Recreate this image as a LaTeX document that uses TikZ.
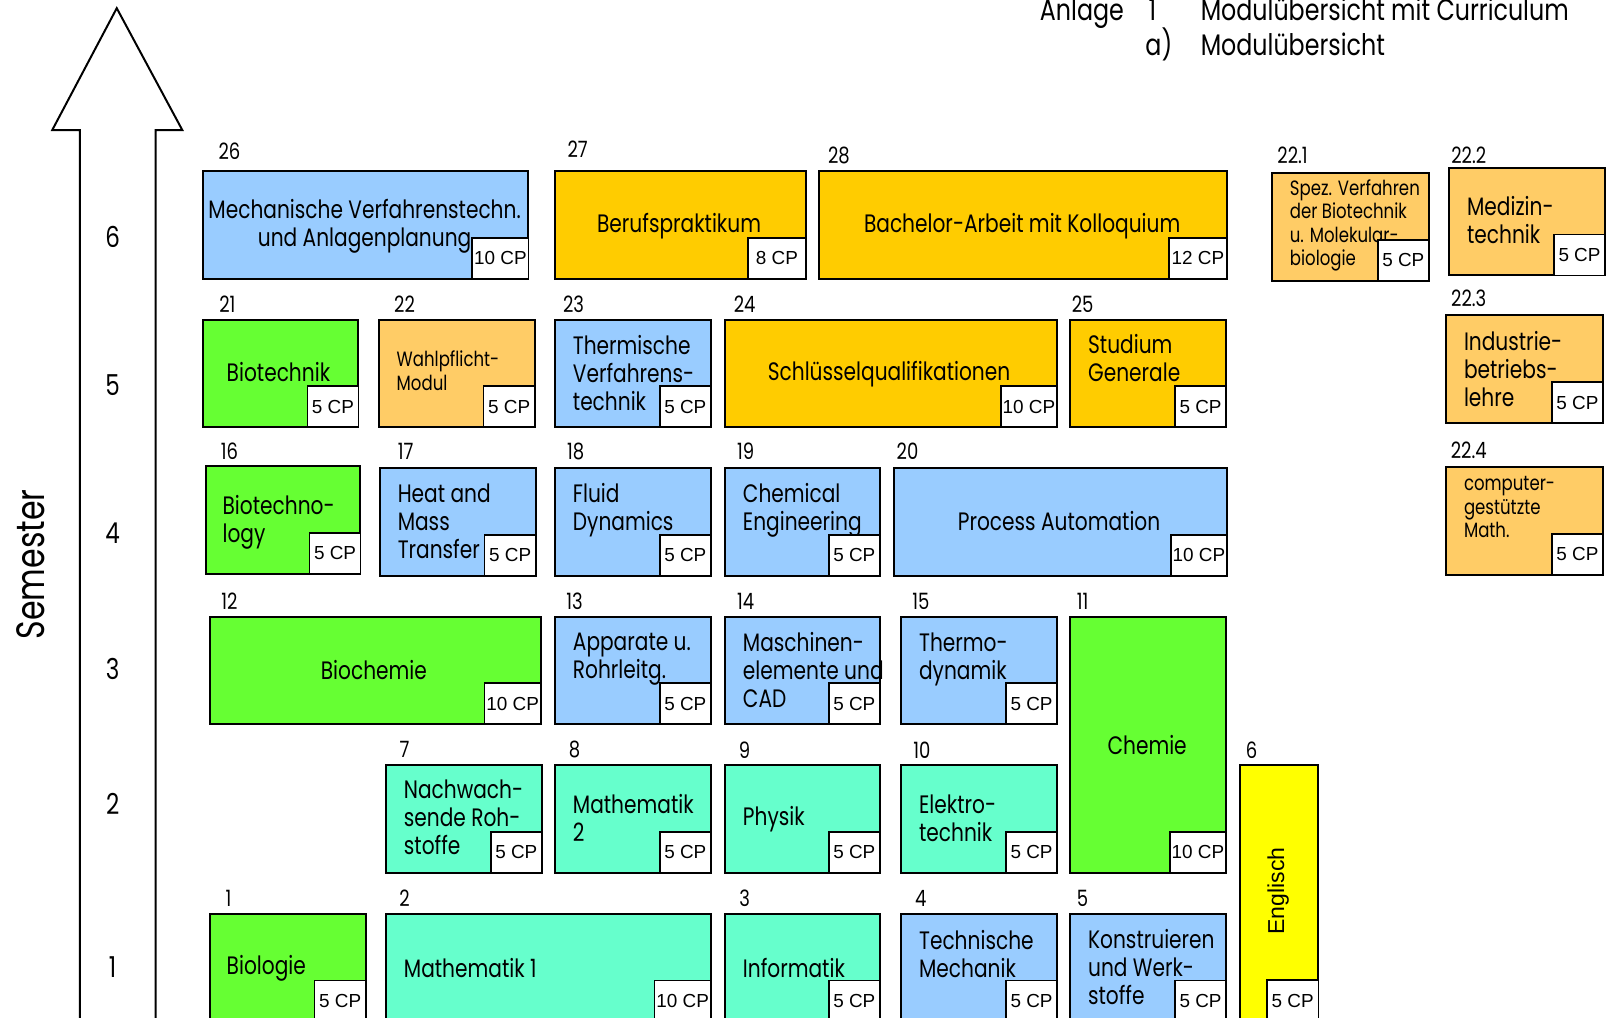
\documentclass[tikz,border=0pt]{standalone}
\usepackage{fontspec}
\setmainfont{Poppins}[FakeStretch=0.80]
\newfontfamily\cpfont{Liberation Sans}
\usetikzlibrary{positioning}
\definecolor{blau}{HTML}{99CCFF}
\definecolor{gold}{HTML}{FFCC00}
\definecolor{orange}{HTML}{FFCC66}
\definecolor{gruen}{HTML}{66FF33}
\definecolor{tuerkis}{HTML}{66FFCC}
\definecolor{gelb}{HTML}{FFFF00}
\tikzset{
	x=0.02cm, y=-0.02cm,
	box/.style={draw, line width=1.1pt, rectangle, inner sep=0pt, anchor=north west},
	cp/.style={draw, fill=white, line width=0.9pt, inner sep=0pt, minimum height=0.8cm, anchor=south east, font=\cpfont\fontsize{10.5}{12}\selectfont},
	txt/.style={anchor=west, align=left, inner sep=0pt, font=\fontsize{14}{15.6}\selectfont},
	klein/.style={font=\fontsize{11.5}{12.9}\selectfont},
	mitte/.style={anchor=center, align=center},
	nr/.style={inner sep=0pt, font=\fontsize{12.5}{14}\selectfont},
	sem/.style={inner sep=0pt, font=\fontsize{16}{18}\selectfont},
	titel/.style={inner sep=0pt, anchor=base west, font=\fontsize{16.5}{18}\selectfont}
}
% box, text on top, then the CP box in the lower right corner
\newcommand{\modul}[9]{%
	\node[box, fill=#5, minimum width=#3, minimum height=#4] (#1) at #2 {};
	\node[txt, #8] (#1t) {#9};
	\node[cp, minimum width=#7] (#1cp) at (#1.south east) {#6};
}

\begin{document}
\begin{tikzpicture}
	\useasboundingbox (0,0) rectangle (1568,993);
	% title
	\node[titel] (anl) at (1015,20) {Anlage};
	\node[titel] (eins) at (1121,20) {1};
	\node[titel] (mc) at (1172,20) {Modulübersicht mit Curriculum};
	\node[titel] (aa) at (1118,54) {a)};
	\node[titel] (mu) at (1172,54) {Modulübersicht};
	% semester arrow
	\draw[line width=1.1pt] (78,1010) -- (78,127) -- (51,127) -- (114,8) -- (178,127) -- (152,127) -- (152,1010);
	\node[sem, rotate=90, font=\fontsize{22}{24}\selectfont] (semester) at (30,551) {Semester};
	\node[sem] (s6) at (110,231) {6};
	\node[sem] (s5) at (110,376) {5};
	\node[sem] (s4) at (110,521) {4};
	\node[sem] (s3) at (110,653) {3};
	\node[sem] (s2) at (110,785) {2};
	\node[sem] (s1) at (110,944) {1};
	% semester 6
	\modul{m26}{(197,166)}{6.36cm}{2.1cm}{blau}{10 CP}{1.1cm}{mitte, at={(356,221)}}{Mechanische Verfahrenstechn.\\und Anlagenplanung}
	\modul{m27}{(541,166)}{4.9cm}{2.1cm}{gold}{8 CP}{1.14cm}{mitte, at={(663,221)}}{Berufspraktikum}
	\modul{m28}{(799,166)}{7.96cm}{2.1cm}{gold}{12 CP}{1.14cm}{mitte, at={(998,221)}}{Bachelor-Arbeit mit Kolloquium}
	\modul{m221}{(1241,168)}{3.06cm}{2.1cm}{orange}{5 CP}{1cm}{klein, at={(1259,220)}}{Spez. Verfahren\\der Biotechnik\\u. Molekular-\\biologie}
	\modul{m222}{(1414,163)}{3.04cm}{2.1cm}{orange}{5 CP}{1cm}{at={(1432,215)}}{Medizin-\\technik}
	% semester 5
	\modul{m21}{(197,311)}{3.04cm}{2.1cm}{gruen}{5 CP}{1cm}{at={(221,363)}}{Biotechnik}
	\modul{m22}{(369,311)}{3.04cm}{2.1cm}{orange}{5 CP}{1cm}{klein, at={(387,362)}}{Wahlpflicht-\\Modul}
	\modul{m23}{(541,311)}{3.04cm}{2.1cm}{blau}{5 CP}{1cm}{at={(559,364)}}{Thermische\\Verfahrens-\\technik}
	\modul{m24}{(707,311)}{6.48cm}{2.1cm}{gold}{10 CP}{1.1cm}{mitte, at={(868,365)}}{Schlüsselqualifikationen}
	\modul{m25}{(1044,311)}{3.04cm}{2.1cm}{gold}{5 CP}{1cm}{at={(1062,350)}}{Studium\\Generale}
	\modul{m223}{(1411,307)}{3.06cm}{2.1cm}{orange}{5 CP}{1cm}{at={(1429,360)}}{Industrie-\\betriebs-\\lehre}
	% semester 4
	\modul{m16}{(200,454)}{3.02cm}{2.1cm}{gruen}{5 CP}{1cm}{at={(217,510)}}{Biotechno-\\logy}
	\modul{m17}{(370,456)}{3.04cm}{2.1cm}{blau}{5 CP}{1cm}{at={(388,509)}}{Heat and\\Mass\\Transfer}
	\modul{m18}{(541,456)}{3.04cm}{2.1cm}{blau}{5 CP}{1cm}{at={(559,498)}}{Fluid\\Dynamics}
	\modul{m19}{(707,456)}{3.02cm}{2.1cm}{blau}{5 CP}{1cm}{at={(725,498)}}{Chemical\\Engineering}
	\modul{m20}{(872,456)}{6.5cm}{2.1cm}{blau}{10 CP}{1.1cm}{mitte, at={(1034,509)}}{Process Automation}
	\modul{m224}{(1411,455)}{3.06cm}{2.1cm}{orange}{5 CP}{1cm}{klein, at={(1429,495)}}{computer-\\gestützte\\Math.}
	% semester 3
	\modul{m12}{(204,601)}{6.46cm}{2.1cm}{gruen}{10 CP}{1.1cm}{mitte, at={(365,654)}}{Biochemie}
	\modul{m13}{(541,601)}{3.04cm}{2.1cm}{blau}{5 CP}{1cm}{at={(559,644)}}{Apparate u.\\Rohrleitg.}
	\modul{m14}{(707,601)}{3.02cm}{2.1cm}{blau}{5 CP}{1cm}{at={(725,654)}}{Maschinen-\\elemente und\\CAD}
	\modul{m15}{(879,601)}{3.04cm}{2.1cm}{blau}{5 CP}{1cm}{at={(897,644)}}{Thermo-\\dynamik}
	\modul{m11}{(1044,601)}{3.04cm}{5cm}{gruen}{10 CP}{1.1cm}{mitte, at={(1120,727)}}{Chemie}
	% semester 2
	\modul{m7}{(376,746)}{3.04cm}{2.1cm}{tuerkis}{5 CP}{1cm}{at={(394,798)}}{Nachwach-\\sende Roh-\\stoffe}
	\modul{m8}{(541,746)}{3.04cm}{2.1cm}{tuerkis}{5 CP}{1cm}{at={(559,799)}}{Mathematik\\2}
	\modul{m9}{(707,746)}{3.02cm}{2.1cm}{tuerkis}{5 CP}{1cm}{at={(725,800)}}{Physik}
	\modul{m10}{(879,746)}{3.04cm}{2.1cm}{tuerkis}{5 CP}{1cm}{at={(897,799)}}{Elektro-\\technik}
	\modul{m6}{(1210,746)}{1.52cm}{5cm}{gelb}{5 CP}{1cm}{mitte, rotate=90, font=\cpfont\fontsize{12.8}{14}\selectfont, at={(1248,870)}}{Englisch}
	% semester 1
	\modul{m1}{(204,891)}{3.04cm}{2.1cm}{gruen}{5 CP}{1cm}{at={(221,945)}}{Biologie}
	\modul{m2}{(376,891)}{6.34cm}{2.1cm}{tuerkis}{10 CP}{1.1cm}{at={(394,945)}}{Mathematik 1}
	\modul{m3}{(707,891)}{3.02cm}{2.1cm}{tuerkis}{5 CP}{1cm}{at={(725,945)}}{Informatik}
	\modul{m4}{(879,891)}{3.04cm}{2.1cm}{blau}{5 CP}{1cm}{at={(897,931)}}{Technische\\Mechanik}
	\modul{m5}{(1044,891)}{3.04cm}{2.1cm}{blau}{5 CP}{1cm}{at={(1062,944)}}{Konstruieren\\und Werk-\\stoffe}
	% module numbers
	\node[nr] (n26) at (224,148) {26};
	\node[nr] (n27) at (564,146) {27};
	\node[nr] (n28) at (819,152) {28};
	\node[nr] (n221) at (1262,152) {22.1};
	\node[nr] (n222) at (1434,152) {22.2};
	\node[nr] (n21) at (222,297) {21};
	\node[nr] (n22) at (395,297) {22};
	\node[nr] (n23) at (560,297) {23};
	\node[nr] (n24) at (727,297) {24};
	\node[nr] (n25) at (1057,297) {25};
	\node[nr] (n223) at (1434,291) {22.3};
	\node[nr] (n16) at (224,441) {16};
	\node[nr] (n17) at (396,441) {17};
	\node[nr] (n18) at (562,441) {18};
	\node[nr] (n19) at (728,441) {19};
	\node[nr] (n20) at (886,441) {20};
	\node[nr] (n224) at (1434,440) {22.4};
	\node[nr] (n12) at (224,587) {12};
	\node[nr] (n13) at (561,587) {13};
	\node[nr] (n14) at (728,587) {14};
	\node[nr] (n15) at (899,587) {15};
	\node[nr] (n11) at (1057,587) {11};
	\node[nr] (n7) at (395,732) {7};
	\node[nr] (n8) at (561,732) {8};
	\node[nr] (n9) at (727,732) {9};
	\node[nr] (n10) at (900,732) {10};
	\node[nr] (n6) at (1222,732) {6};
	\node[nr] (n1) at (223,877) {1};
	\node[nr] (n2) at (395,877) {2};
	\node[nr] (n3) at (727,877) {3};
	\node[nr] (n4) at (899,877) {4};
	\node[nr] (n5) at (1057,877) {5};
\end{tikzpicture}
\end{document}
